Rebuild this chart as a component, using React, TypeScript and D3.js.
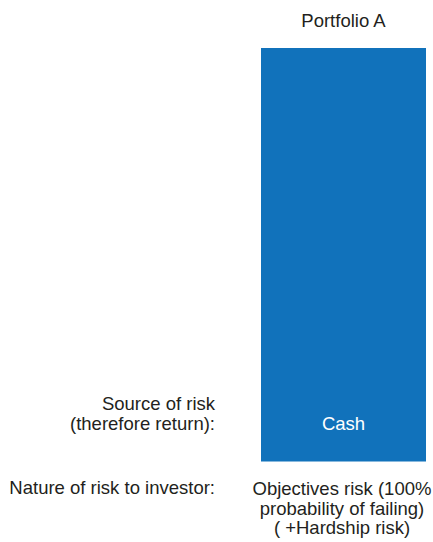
import React from "react";
import * as d3 from "d3";

const portfolios = ["Portfolio A"];
const segments = ["Cash"];
const segmentValues = [100];
const rowLabels = [
  ["Source of risk", "(therefore return):"],
  ["Nature of risk to investor:"],
];
const natureLabels = [["Objectives risk (100%", "probability of failing)", "( +Hardship risk)"]];

const W = 433;
const H = 542;
const FONT = "'Liberation Sans', Arial, Helvetica, sans-serif";
const TEXT = "#231f20";
const BLUE = "#1172bb";

export default function App() {
  const x = d3.scaleBand<string>().domain(portfolios).range([261, 426]).padding(0);
  const y = d3.scaleLinear().domain([0, 100]).range([461.5, 48]);
  const stack = d3.cumsum(segmentValues);

  return (
    <svg
      width={W}
      height={H}
      style={{ position: "absolute", left: 0, top: 0, background: "#fff" }}
      fontFamily={FONT}
      fontSize={18.5}
      fill={TEXT}
    >
      {portfolios.map((p) => {
        const cx = (x(p) ?? 0) + x.bandwidth() / 2;
        return (
          <g key={p}>
            <text x={cx} y={27} textAnchor="middle">{p}</text>
            {segments.map((s, i) => {
              const v0 = i === 0 ? 0 : stack[i - 1];
              const v1 = stack[i];
              return (
                <g key={s}>
                  <rect
                    x={x(p)}
                    width={x.bandwidth()}
                    y={y(v1)}
                    height={y(v0) - y(v1)}
                    fill={BLUE}
                  />
                  <text x={cx} y={y(v0) - 31.5} textAnchor="middle" fill="#fff">{s}</text>
                </g>
              );
            })}
            {natureLabels[0].map((l, i) => (
              <text key={i} x={cx - 1.5} y={495 + i * 19.5} textAnchor="middle">{l}</text>
            ))}
          </g>
        );
      })}
      {rowLabels[0].map((l, i) => (
        <text key={l} x={215} y={410 + i * 20} textAnchor="end">{l}</text>
      ))}
      {rowLabels[1].map((l, i) => (
        <text key={l} x={215} y={494 + i * 20} textAnchor="end">{l}</text>
      ))}
    </svg>
  );
}
